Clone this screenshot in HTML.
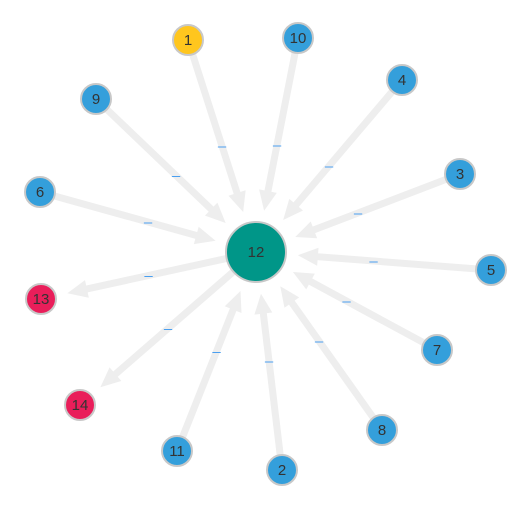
<!DOCTYPE html>
<html><head><meta charset="utf-8"><style>
body{margin:0;background:#fff}
svg{display:block;font-family:"Liberation Sans",sans-serif}
</style></head><body>
<svg id="g" width="530" height="518"></svg>
<script>
const nodeIds=["12","1","10","4","3","5","7","8","2","11","14","13","6","9"];
const nodeX=[256,188,298,402,460,491,437,382,282,177,80,41,40,96];
const nodeY=[252,40,38,80,174,270,350,430,470,451,405,299,192,99];
const nodeGroup=["hub","gold","blue","blue","blue","blue","blue","blue","blue","blue","red","red","blue","blue"];
const edgeFrom=["1","10","4","3","5","7","8","2","11","12","12","6","9"];
const edgeTo=["12","12","12","12","12","12","12","12","12","14","13","12","12"];
const colors={hub:"#009688",gold:"#FFC61E",blue:"#349FDB",red:"#E91E5A"};
const NS="http://www.w3.org/2000/svg";
const svg=document.getElementById('g');
function mk(t,a){const e=document.createElementNS(NS,t);for(const k in a)e.setAttribute(k,a[k]);return e;}
function idx(id){return nodeIds.indexOf(id);}
function rad(i){return nodeGroup[i]==="hub"?30:15;}
const eg=mk('g',{});


svg.appendChild(eg);
edgeFrom.forEach((f,k)=>{
  const a=idx(f),b=idx(edgeTo[k]);
  const x1=nodeX[a],y1=nodeY[a],x2=nodeX[b],y2=nodeY[b];
  const dx=x2-x1,dy=y2-y1,L=Math.hypot(dx,dy),ux=dx/L,uy=dy/L;
  const sx=x1+ux*rad(a),sy=y1+uy*rad(a);
  const tx=x2-ux*(rad(b)+12),ty=y2-uy*(rad(b)+12);
  const bx=tx-ux*20,by=ty-uy*20;
  const g=mk('g',{});
  
  
  g.appendChild(mk('line',{x1:sx,y1:sy,x2:bx+ux*4,y2:by+uy*4,stroke:'#eeeeee','stroke-width':7}));
  const px=-uy,py=ux;
  g.appendChild(mk('polygon',{points:`${tx},${ty} ${bx+px*9},${by+py*9} ${bx-px*9},${by-py*9}`,fill:'#eeeeee'}));
  const mx=(x1+x2)/2,my=(y1+y2)/2;
  const lab=mk('text',{x:mx,y:my+5,'text-anchor':'middle','font-size':15,fill:'#4a9ff0'});
  
  
  lab.textContent='–';
  g.appendChild(lab);
  eg.appendChild(g);
});
nodeIds.forEach((id,i)=>{
  const g=mk('g',{});
  
  
  g.appendChild(mk('circle',{cx:nodeX[i],cy:nodeY[i],r:rad(i),fill:colors[nodeGroup[i]],stroke:'#c8c8c8','stroke-width':2}));
  const t=mk('text',{x:nodeX[i],y:nodeY[i]+5,'text-anchor':'middle','font-size':nodeGroup[i]==="hub"?15:15,fill:'#333'});
  t.textContent=id;
  g.appendChild(t);
  svg.appendChild(g);
});
</script>
</body></html>
